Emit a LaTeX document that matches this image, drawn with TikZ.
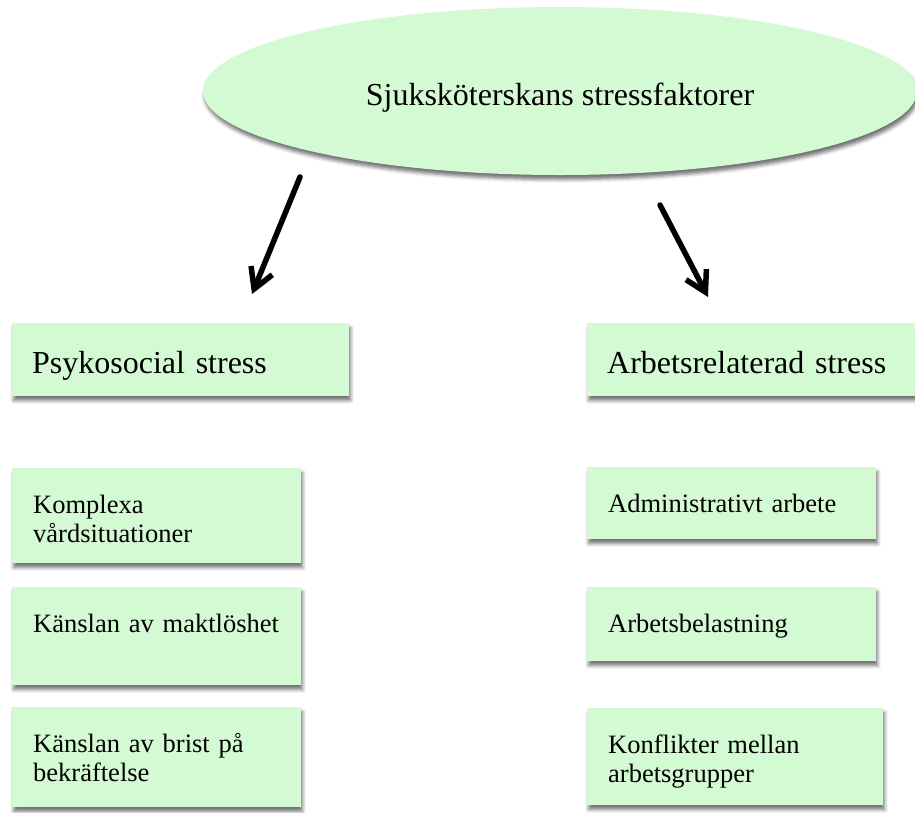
\documentclass[tikz,border=0pt]{standalone}
\usepackage{fontspec}
\setmainfont{Liberation Serif}
\usetikzlibrary{positioning,arrows.meta,shapes.geometric,shadows.blur}
\definecolor{mintgreen}{RGB}{212,250,212}

\begin{document}
\begin{tikzpicture}[
    x=1pt,y=-1pt,>={Straight Barb[length=20pt,width=23pt]},
    softshadow/.style={blur shadow={shadow xshift=1.5pt,shadow yshift=-4.5pt,
      shadow blur radius=3.5pt,shadow opacity=55}},
    topic/.style={ellipse,fill=mintgreen,minimum width=714pt,
      minimum height=168pt,inner sep=0pt,softshadow,
      font=\fontsize{32}{38}\selectfont,text height=31pt,text depth=2pt},
    group/.style={fill=mintgreen,anchor=north west,align=left,softshadow,
      inner xsep=20pt,inner ysep=0pt,font=\fontsize{32}{38}\selectfont,
      text height=50pt,text depth=23pt},
    factor/.style={fill=mintgreen,anchor=north west,align=left,softshadow,
      inner xsep=21pt,inner ysep=0pt,font=\fontsize{26.5}{29}\selectfont,
      text height=45.5pt},
    link/.style={->,line width=5.5pt,line cap=round,line join=round,
      preaction={draw=black!45,opacity=0.35,
        transform canvas={shift={(1.5pt,-3pt)}}}}
]
\useasboundingbox (0,0) rectangle (915,812);

\node[topic] (title) at (560,91) {Sjuksköterskans stressfaktorer};

\node[group,text width=297pt] (psychosocial) at (12,323)
  {Psykosocial stress};
\node[group,text width=300pt] (workrelated) at (587,323)
  {Arbetsrelaterad stress};

\node[factor,text width=247pt,text depth=49.5pt] (complexcare) at (12,468)
  {Komplexa\\vårdsituationer};
\node[factor,text width=247pt,text depth=52.5pt] (powerless) at (12,587)
  {Känslan av maktlöshet};
\node[factor,text width=247pt,text depth=54.5pt] (noaffirm) at (12,707)
  {Känslan av brist på\\bekräftelse};

\node[factor,text width=247pt,text depth=26.5pt] (admin) at (587,467)
  {Administrativt arbete};
\node[factor,text width=247pt,text depth=28.5pt] (workload) at (587,587)
  {Arbetsbelastning};
\node[factor,text width=254pt,text depth=51.5pt] (conflicts) at (587,708)
  {Konflikter mellan\\arbetsgrupper};

\coordinate (psyfrom) at (300,177);
\coordinate (psyto) at (252,294);
\coordinate (workfrom) at (660,205);
\coordinate (workto) at (708,297);

\draw[link] (psyfrom) -- (psyto);
\draw[link] (workfrom) -- (workto);
\end{tikzpicture}
\end{document}
